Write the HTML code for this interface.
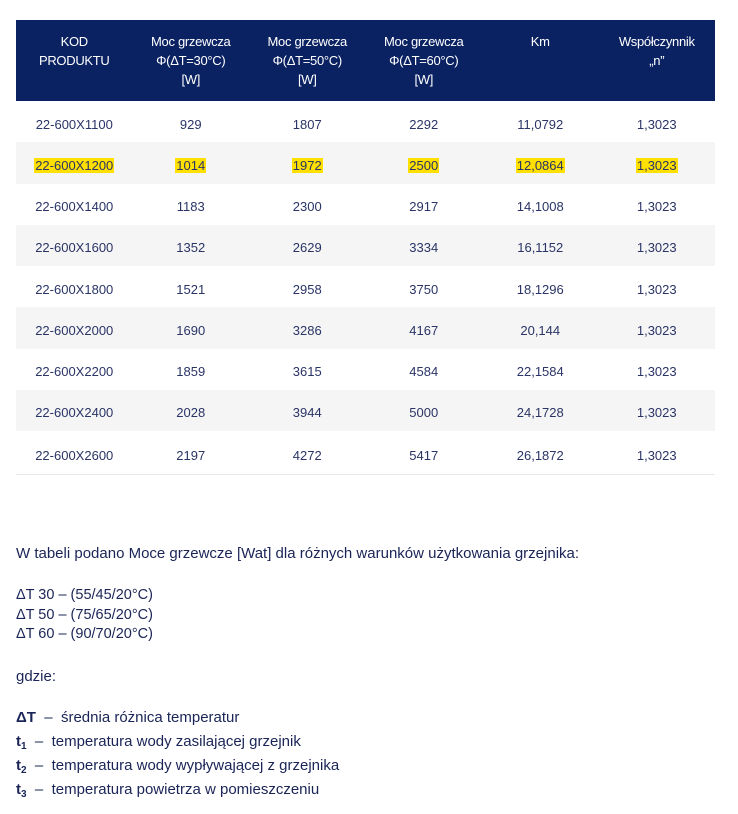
<!DOCTYPE html>
<html><head><meta charset="utf-8"><style>
body{margin:0;width:738px;height:814px;background:#fff;font-family:"Liberation Sans",sans-serif;color:#1a2456;overflow:hidden}
.tbl{position:absolute;left:16px;top:20px;width:699px}
.hd{height:81px;background:#0b2262;color:#fff;display:flex}
.hd div{width:116.5px;text-align:center;font-size:13px;line-height:19px;padding-top:12px;letter-spacing:-0.3px}
.row{height:41.25px;display:flex;align-items:center;font-size:13px;color:#2a3466;box-sizing:border-box;padding-top:5px}
.row div{width:116.5px;text-align:center}
.g{background:#f5f5f5}
mark{background:#ffe000;color:#2a3466;padding:0 1px}
.txt{position:absolute;left:16px;font-size:15px;color:#1a2456}
sub{font-size:10px;vertical-align:-3px}
</style></head><body>
<div class="tbl">
<div class="hd"><div>KOD<br>PRODUKTU</div><div>Moc grzewcza<br>Φ(ΔT=30°C)<br>[W]</div><div>Moc grzewcza<br>Φ(ΔT=50°C)<br>[W]</div><div>Moc grzewcza<br>Φ(ΔT=60°C)<br>[W]</div><div>Km</div><div>Współczynnik<br>„n”</div></div>
<div class="row"><div>22-600X1100</div><div>929</div><div>1807</div><div>2292</div><div>11,0792</div><div>1,3023</div></div>
<div class="row g"><div><mark>22-600X1200</mark></div><div><mark>1014</mark></div><div><mark>1972</mark></div><div><mark>2500</mark></div><div><mark>12,0864</mark></div><div><mark>1,3023</mark></div></div>
<div class="row"><div>22-600X1400</div><div>1183</div><div>2300</div><div>2917</div><div>14,1008</div><div>1,3023</div></div>
<div class="row g"><div>22-600X1600</div><div>1352</div><div>2629</div><div>3334</div><div>16,1152</div><div>1,3023</div></div>
<div class="row"><div>22-600X1800</div><div>1521</div><div>2958</div><div>3750</div><div>18,1296</div><div>1,3023</div></div>
<div class="row g"><div>22-600X2000</div><div>1690</div><div>3286</div><div>4167</div><div>20,144</div><div>1,3023</div></div>
<div class="row"><div>22-600X2200</div><div>1859</div><div>3615</div><div>4584</div><div>22,1584</div><div>1,3023</div></div>
<div class="row g"><div>22-600X2400</div><div>2028</div><div>3944</div><div>5000</div><div>24,1728</div><div>1,3023</div></div>
<div class="row" style="border-bottom:1px solid #e8e8e8;height:44px"><div>22-600X2600</div><div>2197</div><div>4272</div><div>5417</div><div>26,1872</div><div>1,3023</div></div>
</div>
<div class="txt" style="top:545px">W tabeli podano Moce grzewcze [Wat] dla różnych warunków użytkowania grzejnika:</div>
<div class="txt" style="top:586px;line-height:19.5px;font-size:14.5px">ΔT 30 – (55/45/20°C)<br>ΔT 50 – (75/65/20°C)<br>ΔT 60 – (90/70/20°C)</div>
<div class="txt" style="top:668px">gdzie:</div>
<div class="txt" style="top:709px"><b>ΔT</b> &nbsp;– &nbsp;średnia różnica temperatur</div>
<div class="txt" style="top:733px"><b>t<sub>1</sub></b> &nbsp;– &nbsp;temperatura wody zasilającej grzejnik</div>
<div class="txt" style="top:757px"><b>t<sub>2</sub></b> &nbsp;– &nbsp;temperatura wody wypływającej z grzejnika</div>
<div class="txt" style="top:781px"><b>t<sub>3</sub></b> &nbsp;– &nbsp;temperatura powietrza w pomieszczeniu</div>
</body></html>
